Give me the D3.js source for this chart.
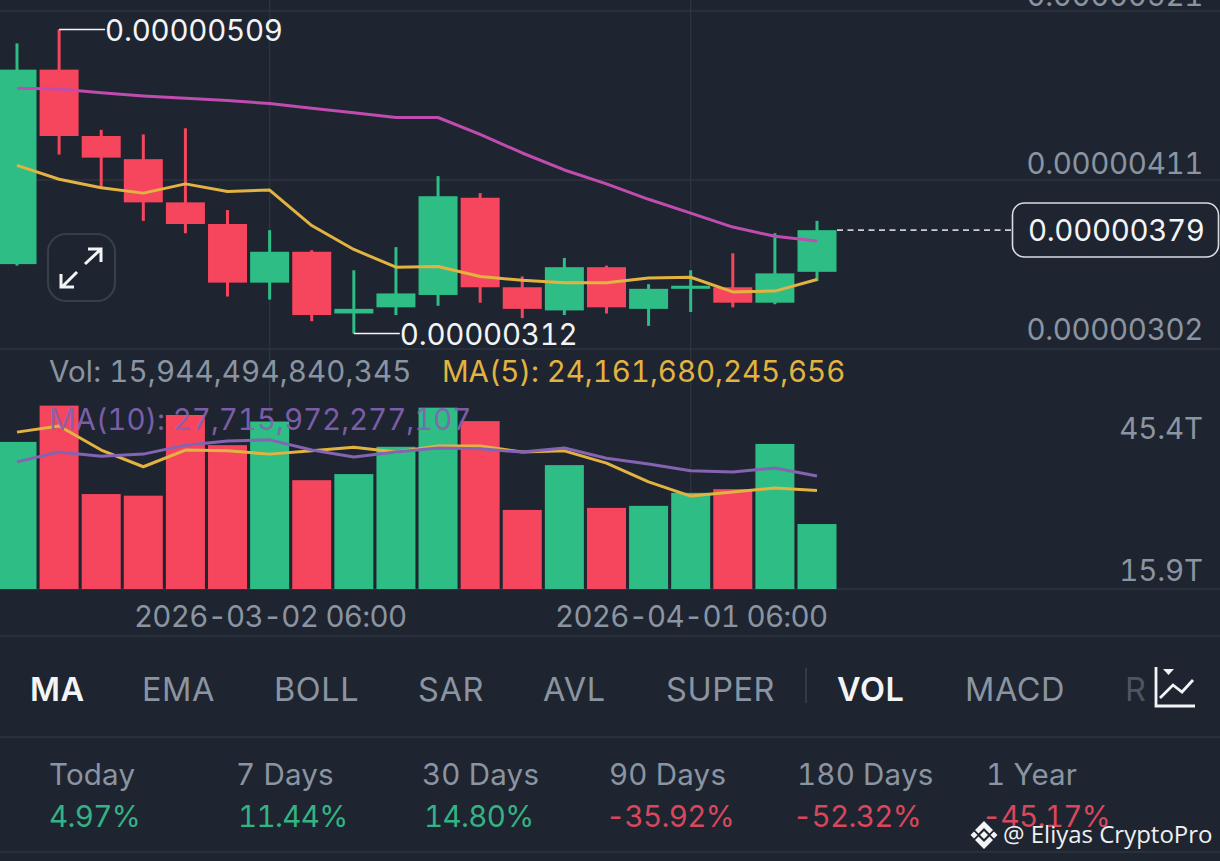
<!DOCTYPE html>
<html>
<head>
<meta charset="utf-8">
<script src="https://cdn.jsdelivr.net/npm/d3@7"></script>
<style>
  html, body { margin: 0; padding: 0; background: #1e2530; overflow: hidden; }
  svg { display: block; }
  text { font-family: Inter, "Noto Sans", sans-serif; letter-spacing: 0.55px; font-variant-numeric: tabular-nums; }
</style>
</head>
<body>
<script>
// candles, one every 3 days; prices are in units of 0.00000001
const dates = ["02-12","02-15","02-18","02-21","02-24","02-27","03-02","03-05","03-08","03-11",
               "03-14","03-17","03-20","03-23","03-26","03-29","04-01","04-04","04-07","04-10"];
const open  = [357,483,440,425,397,383,345,365,325,329,337,400,342,327,355,328,341,342,332,352];
const close = [483,440,426,397,383,345,365,324,328,338,401,342,328,355,329,341,343,332,351,379];
const high  = [500,509,444,441,445,392,379,366,353,368,414,403,349,361,356,344,353,364,377,385];
const low   = [356,428,407,385,377,336,334,320,312,324,330,332,322,324,325,317,326,329,331,346];

const maShort = [421,412,406.5,403,409,404,405,382,366.5,355,355.5,349,346.5,345,345,348,348.5,339,339.5,347];
const maLong  = [471,470.5,468,466,464.5,463,461,458,455,452,452,441,429,418,409,399,390,381,375,372];

// volume in trillions
const volume = [36.1,45.0,23.3,22.9,42.7,35.3,41.1,26.7,28.2,34.9,44.5,41.2,19.4,30.4,19.9,20.4,23.6,24.5,35.6,15.94];
const volMa5  = [38.5,40,34.1,30,34.1,33.9,33.1,33.9,34.8,33.6,35.1,35.1,33.6,33.9,30.9,26.3,22.8,23.8,24.8,24.16];
const volMa10 = [31.2,33.6,32.6,33.1,35.3,36.3,36.6,34.1,32.4,33.6,34.6,34.4,33.6,34.6,32.1,30.7,29,28.7,29.7,27.72];

const priceTicks = [521,411,302];
const volTicks = ["45.4T","15.9T"];
const dateTicks = ["03-02","04-01"];
const lastPrice = 379;

const tabs = ["MA","EMA","BOLL","SAR","AVL","SUPER","VOL","MACD","R"];
const tabLeft = [30,142,274,418,543,666,837,965,1125];
const periods = ["Today","7 Days","30 Days","90 Days","180 Days","1 Year"];
const changes = ["4.97%","11.44%","14.80%","-35.92%","-52.32%","-45.17%"];
const statLeft = [49,236,422,609,797,986];
const changeLeft = [49,238,424,606,793,982];

const green = "#2ebd85", red = "#f6465d", grid = "#2c3440", grey = "#8b94a1",
      white = "#f2f4f6", yellow = "#e3b341", pink = "#c04cb0", purple = "#8563b3";

const svg = d3.select("body").append("svg")
  .attr("width", 1220).attr("height", 861)
  .style("background", "#1e2530");

const x = d3.scalePoint().domain(d3.range(dates.length)).range([17, 817]);
const y = d3.scaleLinear().domain([302, 521]).range([349, 11]);
const yVol = d3.scaleLinear().domain([0, 45.4]).range([589, 404]);
const bodyW = 39;

// grid
[11, 180, 349, 589, 636, 737, 852].forEach(g => {
  svg.append("line").attr("x1", 0).attr("x2", 1220).attr("y1", g).attr("y2", g)
    .attr("stroke", grid).attr("stroke-width", 1.6);
});
dateTicks.forEach(d => {
  const px = x(dates.indexOf(d));
  svg.append("line").attr("x1", px).attr("x2", px).attr("y1", 0).attr("y2", 589)
    .attr("stroke", grid).attr("stroke-width", 1.4);
});

// candles
const candles = svg.append("g").selectAll("g").data(dates.map((d, i) => i)).join("g");
candles.append("line")
  .attr("x1", i => x(i)).attr("x2", i => x(i))
  .attr("y1", i => y(high[i])).attr("y2", i => y(low[i]))
  .attr("stroke", i => close[i] >= open[i] ? green : red)
  .attr("stroke-width", 3);
candles.append("rect")
  .attr("x", i => x(i) - bodyW / 2).attr("width", bodyW)
  .attr("y", i => y(Math.max(open[i], close[i])))
  .attr("height", i => Math.abs(y(open[i]) - y(close[i])))
  .attr("fill", i => close[i] >= open[i] ? green : red);

// volume bars
svg.append("g").selectAll("rect").data(volume).join("rect")
  .attr("x", (d, i) => x(i) - bodyW / 2).attr("width", bodyW)
  .attr("y", d => yVol(d)).attr("height", d => yVol(0) - yVol(d))
  .attr("fill", (d, i) => close[i] >= open[i] ? green : red);

// moving averages
const priceLine = d3.line().x((d, i) => x(i)).y(d => y(d));
const volLine = d3.line().x((d, i) => x(i)).y(d => yVol(d));
[[maLong, pink, priceLine], [maShort, yellow, priceLine], [volMa5, yellow, volLine], [volMa10, purple, volLine]]
  .forEach(([vals, col, gen]) => {
    svg.append("path").attr("d", gen(vals)).attr("fill", "none")
      .attr("stroke", col).attr("stroke-width", 3).attr("stroke-linejoin", "round");
  });

// axes
const fontSize = 29.5;
const priceLift = [-6, -7, -10];
const priceAxis = svg.append("g").attr("transform", "translate(1203,0)")
  .call(d3.axisLeft(y).tickValues(priceTicks).tickSize(0).tickFormat(v => "0.00000" + v));
priceAxis.select(".domain").remove();
priceAxis.selectAll("text").attr("x", 0).attr("dy", (d, i) => priceLift[i]).attr("text-anchor", "end")
  .attr("fill", grey).attr("font-size", fontSize).style("letter-spacing", "-0.35px");

const volLabelY = d3.scalePoint().domain(volTicks).range([438, 580]);
const volAxis = svg.append("g").attr("transform", "translate(1203,0)")
  .call(d3.axisLeft(volLabelY).tickSize(0));
volAxis.select(".domain").remove();
volAxis.selectAll("text").attr("x", 0).attr("dy", 0).attr("text-anchor", "end")
  .attr("fill", grey).attr("font-size", fontSize).style("letter-spacing", "-0.1px");

const dateAxis = svg.append("g").attr("transform", "translate(0,589)")
  .call(d3.axisBottom(x).tickValues(dateTicks.map(d => dates.indexOf(d))).tickSize(0)
    .tickFormat(i => "2026-" + dates[i] + " 06:00"));
dateAxis.select(".domain").remove();
dateAxis.selectAll("text").attr("y", 38).attr("dy", 0).attr("text-anchor", "middle")
  .attr("fill", grey).attr("font-size", fontSize).style("letter-spacing", "-0.7px");

// high, low and last price callouts
const label = (tx, ty, t, col, spacing, size, weight) => svg.append("text")
  .attr("x", tx).attr("y", ty).text(t)
  .attr("fill", col).attr("font-size", size || fontSize).attr("font-weight", weight || 400)
  .style("letter-spacing", spacing + "px");

const iHigh = high.indexOf(d3.max(high)), iLow = low.indexOf(d3.min(low));
[[iHigh, high[iHigh]], [iLow, low[iLow]]].forEach(([i, v]) => {
  svg.append("line").attr("x1", x(i)).attr("x2", x(i) + 46)
    .attr("y1", y(v)).attr("y2", y(v)).attr("stroke", white).attr("stroke-width", 1.5);
  label(x(i) + 46, y(v) + 11.5, "0.00000" + v, white, -0.25);
});

svg.append("line").attr("x1", 837).attr("x2", 1012)
  .attr("y1", y(lastPrice)).attr("y2", y(lastPrice))
  .attr("stroke", "#c9ced4").attr("stroke-width", 1.6).attr("stroke-dasharray", "6 4.5");
svg.append("rect").attr("x", 1012.5).attr("y", 203).attr("width", 206).attr("height", 54).attr("rx", 12)
  .attr("fill", "#1e2530").attr("stroke", "#d8dce0").attr("stroke-width", 1.6);
label(1028, 240.5, "0.00000" + lastPrice, white, -0.35);

// legend
label(49, 382, "Vol: 15,944,494,840,345", grey, 0.15);
label(442, 382, "MA(5): 24,161,680,245,656", yellow, -0.05);
label(49, 430, "MA(10): 27,715,972,277,107", purple, -0.05).attr("fill-opacity", 0.92);

// expand button
svg.append("rect").attr("x", 48).attr("y", 234).attr("width", 67).attr("height", 67).attr("rx", 18)
  .attr("fill", "none").attr("stroke", "#363e4a").attr("stroke-width", 2.2);
["M85 264L100 250M88 249H101V262", "M77 272L62 287M61 274V287H74"].forEach(p => {
  svg.append("path").attr("d", p).attr("fill", "none").attr("stroke", white).attr("stroke-width", 3);
});

// indicator tabs
tabs.forEach((t, i) => {
  const active = t === "MA" || t === "VOL";
  label(tabLeft[i], 700.5, t, active ? white : grey, 0.55, 32.5, active ? 600 : 400)
    .attr("fill-opacity", t === "R" ? 0.45 : 1);
});
svg.append("line").attr("x1", 806).attr("x2", 806).attr("y1", 668).attr("y2", 703)
  .attr("stroke", "#39414d").attr("stroke-width", 1.6);
svg.append("path").attr("d", "M1156 667V706H1195M1160 698L1173 685L1182 692L1193 680")
  .attr("fill", "none").attr("stroke", white).attr("stroke-width", 2.8);
svg.append("path").attr("d", "M1163 669H1174L1168.500 675Z").attr("fill", white);

// period changes
periods.forEach((p, i) => {
  label(statLeft[i], 785, p, grey, 0.2);
  label(changeLeft[i], 827, changes[i],
    changes[i][0] === "-" ? "#d9475c" : "#35b283", -0.65);
});

// watermark
svg.append("path")
  .attr("d", "M984 821L993 830L989.500 833.500L984 828L978.500 833.500L975 830Z" +
             "M984 849L993 840L989.500 836.500L984 842L978.500 836.500L975 840Z" +
             "M984 831L988 835L984 839L980 835Z" +
             "M974 831.500L977.500 835L974 838.500L970.500 835Z" +
             "M994 831.500L997.500 835L994 838.500L990.500 835Z")
  .attr("fill", white);
svg.append("text").attr("x", 1003).attr("y", 843).text("@ Eliyas CryptoPro")
  .attr("fill", "#eef0f2").attr("font-size", 24).style("letter-spacing", "0")
  .style("font-family", '"Open Sans", sans-serif');
</script>
</body>
</html>
